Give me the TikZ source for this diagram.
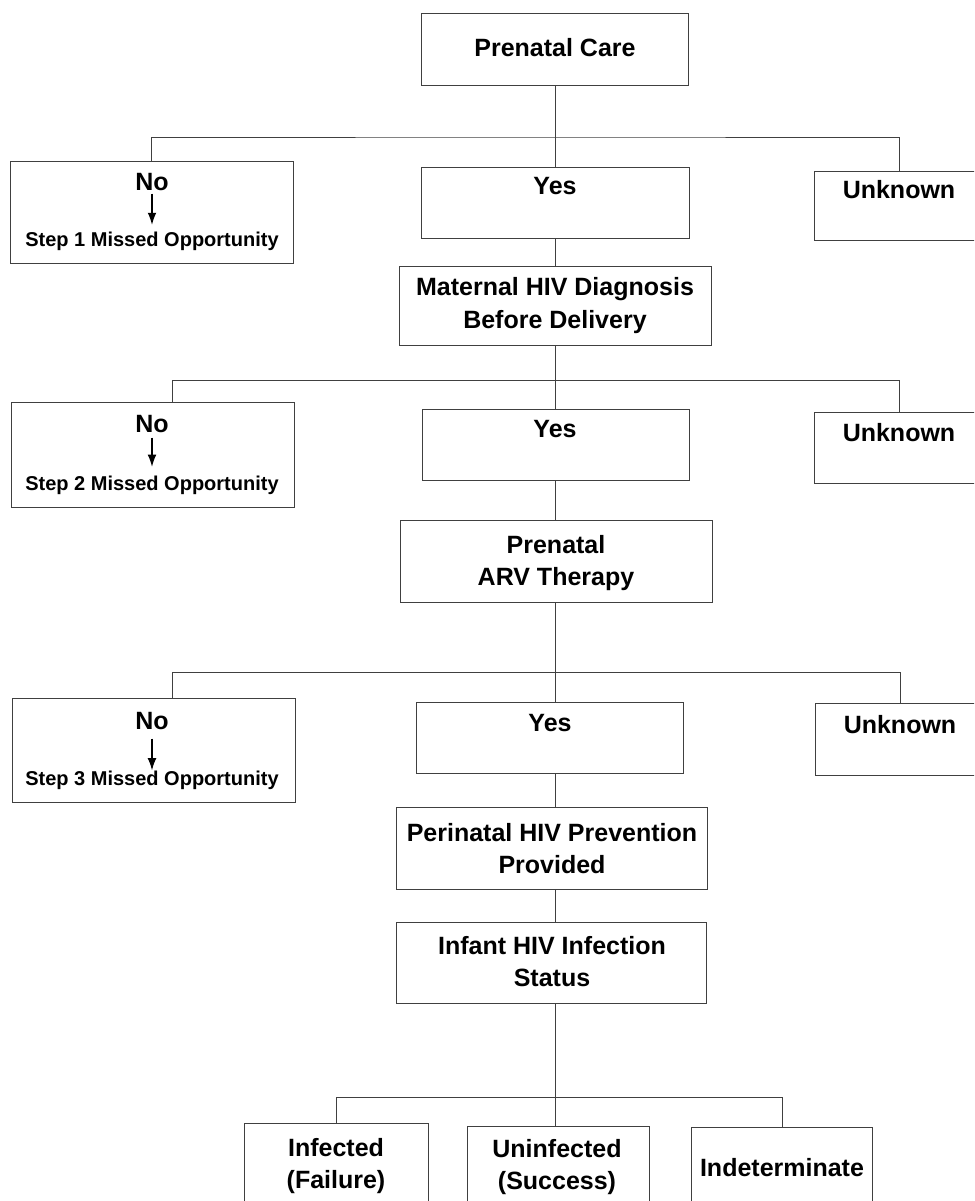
\documentclass[tikz,border=0pt]{standalone}
\usepackage{fontspec}
\setmainfont{Liberation Sans}
\usetikzlibrary{arrows.meta}
\begin{document}
\begin{tikzpicture}[x=0.75pt,y=-0.75pt,
  box/.style={draw=black!75, line width=0.7pt, rectangle, inner sep=0pt},
  bx/.style 2 args={box, minimum width=#1*0.75pt, minimum height=#2*0.75pt},
  conn/.style={draw=black!75, line width=0.7pt},
  big/.style={font=\bfseries\fontsize{18.75}{24}\selectfont, align=center, inner sep=0pt},
  small/.style={font=\bfseries\fontsize{15}{18}\selectfont, inner sep=0pt},
  miss/.style={-{Latex[length=9pt,width=6.5pt]}, line width=0.8pt, black}]
\useasboundingbox (0,0) rectangle (974,1201);
\clip (0,0) rectangle (974,1201);
\fill[white] (0,0) rectangle (974,1201);

% boxes
\node[bx={267}{72}] (pc) at (554.5,49) {};
\node[bx={283}{102}] (no1) at (151.5,212) {};
\node[bx={268}{71}] (yes1) at (555,202.5) {};
\node[bx={171}{69}] (unk1) at (899.5,205.5) {};
\node[bx={312}{79}] (mat) at (555,305.5) {};
\node[bx={283}{105}] (no2) at (152.5,454.5) {};
\node[bx={267}{71}] (yes2) at (555.5,444.5) {};
\node[bx={171}{71}] (unk2) at (899.5,447.5) {};
\node[bx={312}{82}] (arv) at (556,561) {};
\node[bx={283}{104}] (no3) at (153.5,750) {};
\node[bx={267}{71}] (yes3) at (549.5,737.5) {};
\node[bx={170}{72}] (unk3) at (900,739) {};
\node[bx={311}{82}] (peri) at (551.5,848) {};
\node[bx={310}{81}] (inf) at (551,962.5) {};
\node[bx={184}{100}] (infd) at (336,1173) {};
\node[bx={182}{100}] (uninf) at (558,1176) {};
\node[bx={181}{100}] (indet) at (782,1177) {};

% connectors
\coordinate (T) at (555,0);
\draw[conn] (pc.south -| T) -- (yes1.north -| T);
\coordinate (b1) at (555,137);
\draw[conn] (no1.north) |- (b1) -| (unk1.north);
\draw[conn] (yes1.south -| T) -- (mat.north -| T);
\draw[conn] (mat.south -| T) -- (yes2.north -| T);
\coordinate (b2l) at (172,380);
\coordinate (b2r) at (899,380);
\draw[conn] (no2.north -| b2l) -- (b2l) -- (b2r) -- (unk2.north -| b2r);
\draw[conn] (yes2.south -| T) -- (arv.north -| T);
\draw[conn] (arv.south -| T) -- (yes3.north -| T);
\coordinate (b3l) at (172,672);
\coordinate (b3r) at (900,672);
\draw[conn] (no3.north -| b3l) -- (b3l) -- (b3r) -- (unk3.north -| b3r);
\draw[conn] (yes3.south -| T) -- (peri.north -| T);
\draw[conn] (peri.south -| T) -- (inf.north -| T);
\draw[conn] (inf.south -| T) -- (uninf.north -| T);
\coordinate (b4) at (555,1097);
\draw[conn] (infd.north) |- (b4) -| (indet.north);

% texts
\node[big, anchor=base] (tpc) at (555,57) {Prenatal Care};

\node[big, anchor=base] (tno1) at (152,191) {No};
\node[small, anchor=base] (ts1) at (152,247) {Step 1 Missed Opportunity};
\draw[miss, shorten <=1.5pt, shorten >=5.6pt] (tno1.south) -- (ts1.north);
\node[big, anchor=base] (ty1) at (555,195) {Yes};
\node[big, anchor=base] (tu1) at (899,199) {Unknown};

\node[big, font=\bfseries\fontsize{18.75}{24.75}\selectfont] (tmat) at (555,306) {Maternal HIV Diagnosis\\Before Delivery};

\node[big, anchor=base] (tno2) at (152,432) {No};
\node[small, anchor=base] (ts2) at (152,490) {Step 2 Missed Opportunity};
\draw[miss, shorten <=3.75pt, shorten >=6.4pt] (tno2.south) -- (ts2.north);
\node[big, anchor=base] (ty2) at (555,437) {Yes};
\node[big, anchor=base] (tu2) at (899,441) {Unknown};

\node[big] (tarv) at (556,563) {Prenatal\\ARV Therapy};

\node[big, anchor=base] (tno3) at (152,729) {No};
\node[small, anchor=base] (ts3) at (152,785) {Step 3 Missed Opportunity};
\draw[miss, shorten <=6.75pt, shorten >=0pt] (tno3.south) -- (ts3.north);
\node[big, anchor=base] (ty3) at (550,731) {Yes};
\node[big, anchor=base] (tu3) at (900,733) {Unknown};

\node[big] (tperi) at (552,849) {Perinatal HIV Prevention\\Provided};
\node[big] (tinf) at (552,962) {Infant HIV Infection\\Status};

\node[big] (tinfd) at (336,1166) {Infected\\(Failure)};
\node[big] (tun) at (557,1167) {Uninfected\\(Success)};
\node[big, anchor=base] (tind) at (782,1176) {Indeterminate};
\end{tikzpicture}
\end{document}
